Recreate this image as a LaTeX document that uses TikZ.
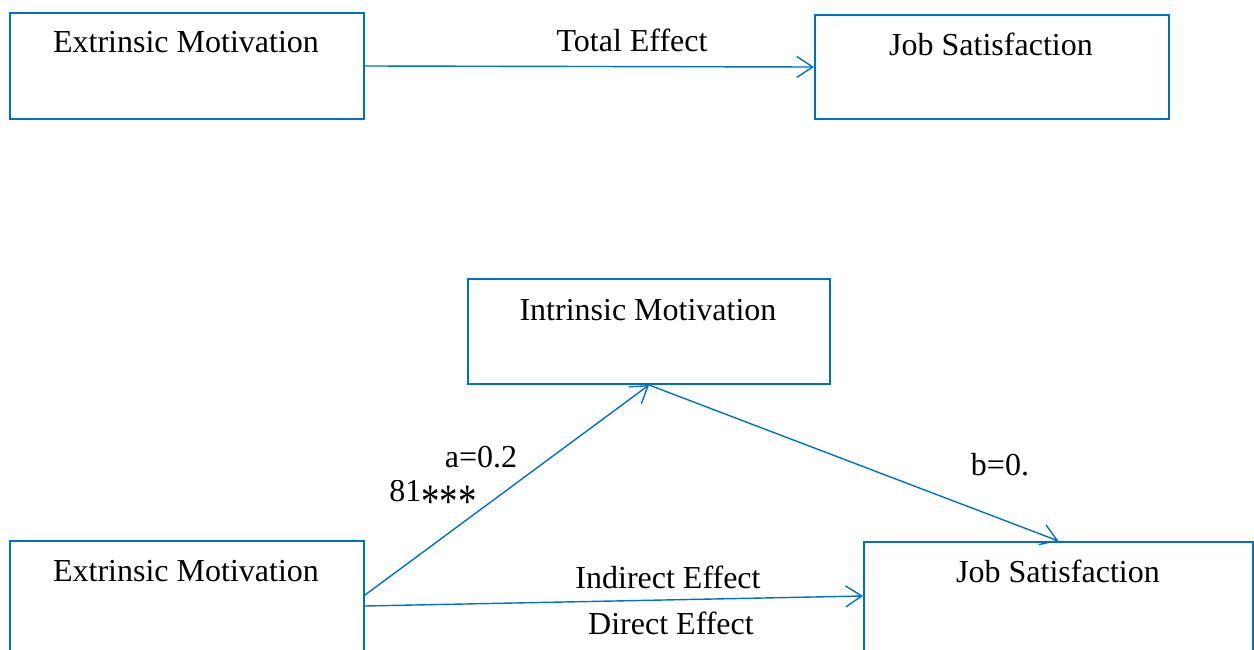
\documentclass[tikz,border=0pt]{standalone}
\usepackage{fontspec}
\setmainfont{Liberation Serif}
\usetikzlibrary{arrows.meta,calc}
\definecolor{boxblue}{RGB}{0,112,192}
\begin{document}
\begin{tikzpicture}[x=1pt,y=-1pt,
  box/.style={draw=boxblue, line width=2pt, rectangle, inner sep=0pt, anchor=north west},
  lbl/.style={anchor=base, inner sep=0pt, font=\fontsize{32}{38}\selectfont},
  conn/.style={draw=boxblue, line width=1.4pt, -{Straight Barb[length=16pt,width=21pt,line width=1.4pt]}}]
\useasboundingbox (0,0) rectangle (1254,650);
\clip (0,0) rectangle (1254,650);
% boxes
\node[box, minimum width=354pt, minimum height=106pt] (ext1) at (9,12) {};
\node[box, minimum width=354pt, minimum height=104pt] (js1) at (814,14) {};
\node[box, minimum width=362pt, minimum height=105pt] (intr) at (467,278) {};
\node[box, minimum width=354pt, minimum height=130pt] (ext2) at (9,540) {};
\node[box, minimum width=389pt, minimum height=130pt] (js2) at (863,541) {};
% texts
\node[lbl] (t1) at (186,53) {Extrinsic Motivation};
\node[lbl] (t2) at (991,56) {Job Satisfaction};
\node[lbl] (t3) at (632,52) {Total Effect};
\node[lbl] (t4) at (648,320) {Intrinsic Motivation};
\node[lbl] (t5) at (186,581) {Extrinsic Motivation};
\node[lbl] (t6) at (1058,582) {Job Satisfaction};
\node[lbl] (t7) at (668,588) {Indirect Effect};
\node[lbl] (t8) at (671,634) {Direct Effect};
\node[lbl] (la) at (481,467) {a=0.2};
\node[lbl] (lb) at (1000,475) {b=0.};
\begin{scope}
  \clip (380,480) rectangle (480,520);
  \node[lbl] (la2) at (433,501) {81\raisebox{-16pt}{\scalebox{1.15}[1.5]{***}}};
\end{scope}
% connectors
\coordinate (e2a) at ($(ext2.north east)+(0,55)$);
\coordinate (j2a) at ($(js2.north west)+(0,55)$);
\draw[conn] (ext1.east) -- (js1.west);
\draw[conn] (e2a) -- (intr.south);
\draw[conn] (intr.south) -- (js2.north);
\draw[conn] (ext2.east) -- (j2a);
\end{tikzpicture}
\end{document}
